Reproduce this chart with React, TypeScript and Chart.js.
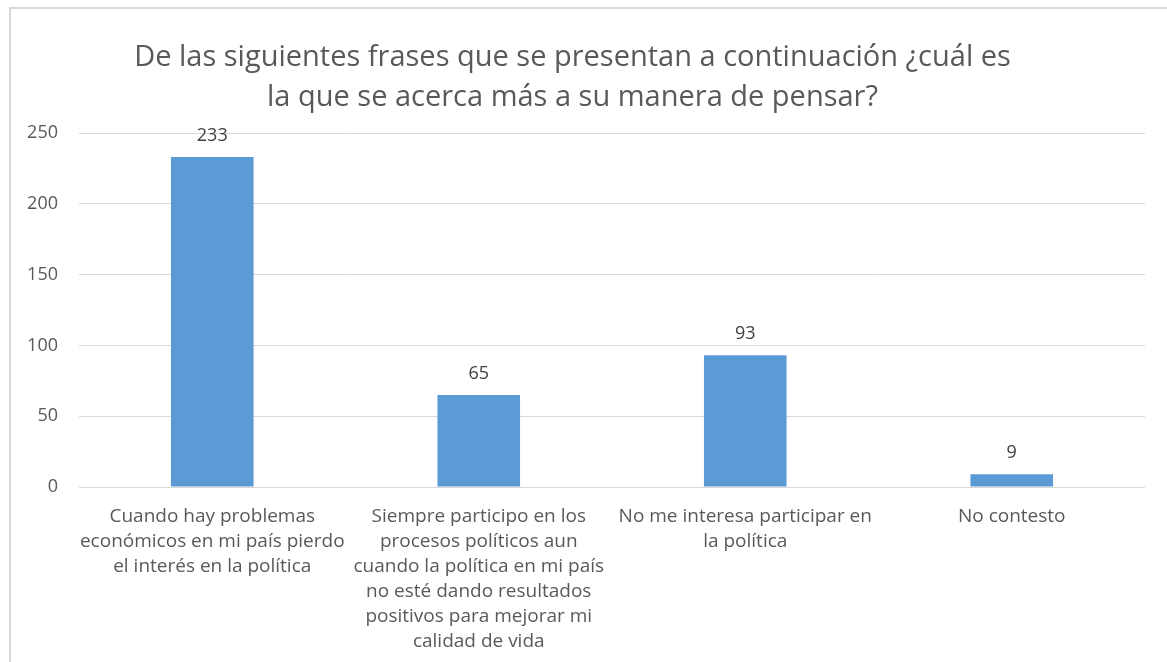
import React, { useEffect, useRef } from "react";
import { Chart, registerables } from "chart.js";

Chart.register(...registerables);

const titleLines = [
  "De las siguientes frases que se presentan a continuación ¿cuál es",
  "la que se acerca más a su manera de pensar?",
];

const categories: string[][] = [
  ["Cuando hay problemas", "económicos en mi país pierdo", "el interés en la política"],
  [
    "Siempre participo en los",
    "procesos políticos aun",
    "cuando la política en mi país",
    "no esté dando resultados",
    "positivos para mejorar mi",
    "calidad de vida",
  ],
  ["No me interesa participar en", "la política"],
  ["No contesto"],
];

const values = [233, 65, 93, 9];

const yTicks = [0, 50, 100, 150, 200, 250];

const FONT = "'Open Sans', sans-serif";

const dataLabelPlugin = {
  id: "dataLabels",
  afterDatasetsDraw(chart: any) {
    const ctx = chart.ctx;
    const meta = chart.getDatasetMeta(0);
    ctx.save();
    ctx.font = `18px ${FONT}`;
    ctx.fillStyle = "#404040";
    ctx.textAlign = "center";
    ctx.textBaseline = "middle";
    meta.data.forEach((bar: any, i: number) => {
      ctx.fillText(String(values[i]), bar.x, bar.y - 21);
    });
    ctx.restore();
  },
};

export default function App() {
  const ref = useRef<HTMLCanvasElement>(null);
  useEffect(() => {
    if (!ref.current) return;
    const chart = new Chart(ref.current, {
      type: "bar",
      data: {
        labels: categories,
        datasets: [
          {
            data: values,
            backgroundColor: "#5B9BD5",
            categoryPercentage: 1,
            barPercentage: 0.31,
          },
        ],
      },
      options: {
        animation: false,
        responsive: false,
        maintainAspectRatio: false,
        layout: { padding: { left: 0, right: 22, top: 0, bottom: 0 } },
        plugins: {
          legend: { display: false },
          tooltip: { enabled: false },
          title: {
            display: true,
            text: titleLines,
            color: "#595959",
            font: { family: FONT, size: 29, weight: "normal", lineHeight: 40 / 29 },
            padding: { top: 38, bottom: 15 },
          },
        },
        scales: {
          x: {
            grid: { display: false },
            border: { display: false },
            ticks: {
              color: "#595959",
              font: { family: FONT, size: 19, lineHeight: 25 / 19 },
              padding: 9,
              maxRotation: 0,
              autoSkip: false,
            },
            afterFit(scale: any) {
              scale.height = 175;
            },
          },
          y: {
            min: 0,
            max: 250,
            afterBuildTicks(scale: any) {
              scale.ticks = yTicks.map((v) => ({ value: v }));
            },
            grid: { color: "#d9d9d9", lineWidth: 1, drawTicks: false },
            border: { display: false },
            ticks: {
              color: "#595959",
              font: { family: FONT, size: 18 },
              padding: 21,
            },
            afterFit(scale: any) {
              scale.width = 79;
            },
          },
        },
      },
      plugins: [dataLabelPlugin],
    });
    return () => chart.destroy();
  }, []);
  return (
    <div style={{ position: "absolute", left: 0, top: 0, width: 1167, height: 662, background: "#fff" }}>
      <div
        style={{
          position: "absolute",
          left: 9,
          top: 7,
          width: 1200,
          height: 700,
          borderLeft: "2px solid #d9d9d9",
          borderTop: "2px solid #d9d9d9",
          boxSizing: "border-box",
        }}
      />
      <canvas ref={ref} width={1167} height={662} style={{ position: "absolute", left: 0, top: 0 }} />
    </div>
  );
}
